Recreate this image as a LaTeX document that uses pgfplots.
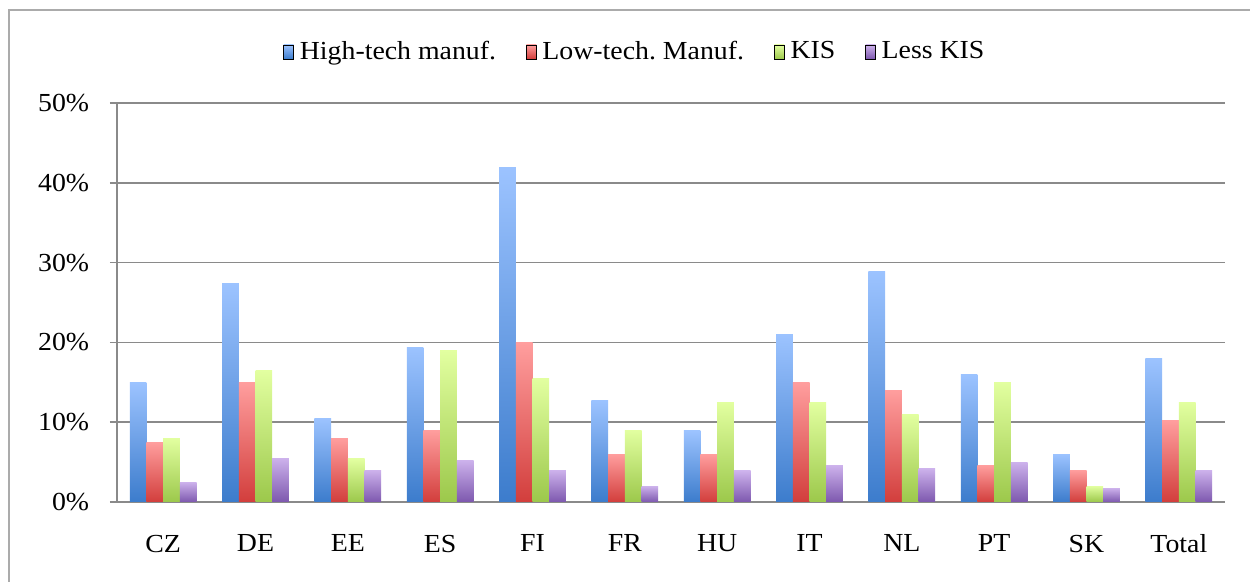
\documentclass[border=0pt]{standalone}
\usepackage{pgfplots}
\pgfplotsset{compat=1.18}
\usepackage{fontspec}
\setmainfont{Liberation Serif}[FakeStretch=1.07]
\frenchspacing
\definecolor{gridc}{HTML}{8A8A8A}
\definecolor{framec}{HTML}{ABABAB}
\definecolor{bluetop}{HTML}{9CC3FF}
\definecolor{bluebot}{HTML}{3C7CCC}
\definecolor{redtop}{HTML}{FF9E9E}
\definecolor{redbot}{HTML}{D23E3C}
\definecolor{greentop}{HTML}{E2FFA0}
\definecolor{greenbot}{HTML}{9CC84B}
\definecolor{purptop}{HTML}{CDB2EC}
\definecolor{purpbot}{HTML}{7D58AE}
% one bar: shift, colour, x, y
\newcommand{\B}[4]{\addplot[draw=none, forget plot, bar shift=#1, top color=#2top, bottom color=#2bot] coordinates {(#3,#4)};}
\begin{document}
\begin{tikzpicture}
\fontsize{26bp}{30bp}\selectfont
\begin{axis}[
  scale only axis,
  width=1108bp, height=399bp,
  ybar=0pt, bar width=16.7bp,
  xmin=-0.5, xmax=11.5,
  ymin=0, ymax=50,
  xtick={0,...,11},
  xticklabels={CZ,DE,EE,ES,FI,FR,HU,IT,NL,PT,SK,Total},
  x tick style={draw=none},
  extra x ticks={-0.5,0.5,...,11.5},
  extra x tick labels={},
  extra x tick style={major tick length=7bp, tick align=outside, tick style={draw=gridc, line width=1.5bp}, grid=none},
  xticklabel style={yshift=-17bp},
  ytick={0,10,...,50},
  yticklabel={\pgfmathprintnumber{\tick}\%},
  /pgf/number format/assume math mode=true,
  ymajorgrids,
  grid style={draw=gridc, line width=1.6bp},
  axis lines=left,
  axis line style={-, draw=gridc, line width=1.6bp},
  y tick style={draw=gridc, line width=1.5bp},
  major tick length=7bp,
  tick align=outside,
  yticklabel style={xshift=-12bp},
  tick label style={font=\fontsize{26bp}{30bp}\selectfont},
  legend columns=4,
  legend style={draw=none, fill=none, at={(rel axis cs:0.4675,1.128)}, anchor=center,
    font=\fontsize{26bp}{30bp}\selectfont,
    /tikz/every odd column/.append style={column sep=4bp},
    /tikz/every even column/.append style={column sep=28bp}},
  legend image code/.code={\fill[#1] (0bp,-7bp) rectangle (10bp,7bp);},
  clip=false,
]
\addlegendimage{top color=bluetop, bottom color=bluebot}
\addlegendimage{top color=redtop, bottom color=redbot}
\addlegendimage{top color=greentop, bottom color=greenbot}
\addlegendimage{top color=purptop, bottom color=purpbot}
\legend{High-tech manuf.,Low-tech. Manuf.,KIS,Less KIS}
% High-tech manuf.
\B{-25.05bp}{blue}{0}{15}
\B{-25.05bp}{blue}{1}{27.4}
\B{-25.05bp}{blue}{2}{10.5}
\B{-25.05bp}{blue}{3}{19.4}
\B{-25.05bp}{blue}{4}{41.9}
\B{-25.05bp}{blue}{5}{12.75}
\B{-25.05bp}{blue}{6}{8.9}
\B{-25.05bp}{blue}{7}{21}
\B{-25.05bp}{blue}{8}{28.9}
\B{-25.05bp}{blue}{9}{16}
\B{-25.05bp}{blue}{10}{6}
\B{-25.05bp}{blue}{11}{18}
% Low-tech. Manuf.
\B{-8.35bp}{red}{0}{7.5}
\B{-8.35bp}{red}{1}{15}
\B{-8.35bp}{red}{2}{8}
\B{-8.35bp}{red}{3}{9}
\B{-8.35bp}{red}{4}{20}
\B{-8.35bp}{red}{5}{6}
\B{-8.35bp}{red}{6}{6}
\B{-8.35bp}{red}{7}{15}
\B{-8.35bp}{red}{8}{14}
\B{-8.35bp}{red}{9}{4.6}
\B{-8.35bp}{red}{10}{4}
\B{-8.35bp}{red}{11}{10.25}
% KIS
\B{8.35bp}{green}{0}{8}
\B{8.35bp}{green}{1}{16.5}
\B{8.35bp}{green}{2}{5.4}
\B{8.35bp}{green}{3}{19}
\B{8.35bp}{green}{4}{15.5}
\B{8.35bp}{green}{5}{9}
\B{8.35bp}{green}{6}{12.5}
\B{8.35bp}{green}{7}{12.5}
\B{8.35bp}{green}{8}{11}
\B{8.35bp}{green}{9}{15}
\B{8.35bp}{green}{10}{2}
\B{8.35bp}{green}{11}{12.5}
% Less KIS
\B{25.05bp}{purp}{0}{2.5}
\B{25.05bp}{purp}{1}{5.5}
\B{25.05bp}{purp}{2}{4}
\B{25.05bp}{purp}{3}{5.25}
\B{25.05bp}{purp}{4}{4}
\B{25.05bp}{purp}{5}{2}
\B{25.05bp}{purp}{6}{3.9}
\B{25.05bp}{purp}{7}{4.6}
\B{25.05bp}{purp}{8}{4.2}
\B{25.05bp}{purp}{9}{5}
\B{25.05bp}{purp}{10}{1.75}
\B{25.05bp}{purp}{11}{4}
\end{axis}
\pgfresetboundingbox
\useasboundingbox ([xshift=-117bp,yshift=-80bp]current axis.south west) rectangle ([xshift=25bp,yshift=103bp]current axis.north east);
\draw[draw=framec, line width=1.5bp] ([xshift=-108bp,yshift=-80bp]current axis.south west) -- ([xshift=-108bp,yshift=93bp]current axis.north west) -- ([xshift=25bp,yshift=93bp]current axis.north east);
\end{tikzpicture}
\end{document}
